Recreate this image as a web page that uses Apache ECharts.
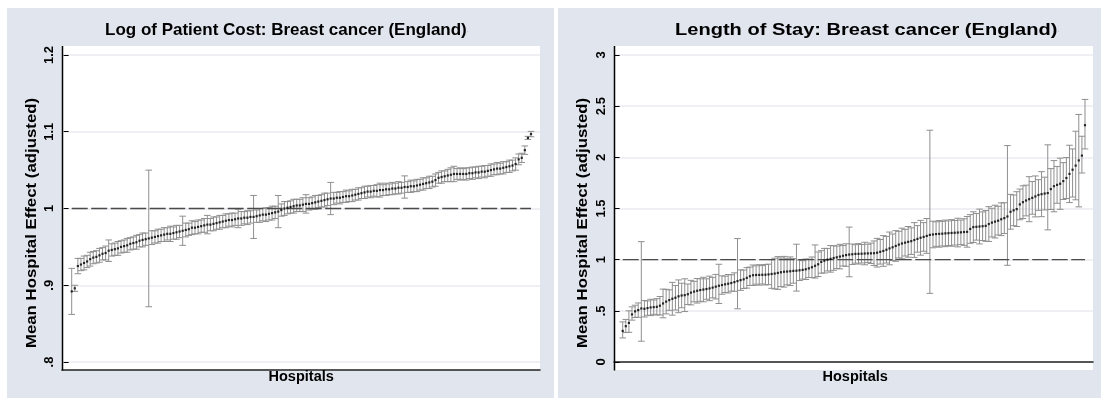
<!DOCTYPE html>
<html>
<head>
<meta charset="utf-8">
<script src="https://cdn.jsdelivr.net/npm/echarts@6/dist/echarts.min.js"></script>
<style>
  html, body { margin: 0; padding: 0; background: #ffffff; }
  #chart { width: 1101px; height: 398px; }
</style>
</head>
<body>
<div id="chart"></div>
<script>
// Hospital effects, ranked from lowest to highest.
// Log of patient cost: mean effect and half-width of its interval.
const costMean = [
  0.892,0.896,0.925,0.927,0.929,0.931,0.934,0.936,0.937,0.939,
  0.941,0.942,0.945,0.946,0.947,0.948,0.950,0.951,0.952,0.954,
  0.955,0.956,0.958,0.959,0.960,0.961,0.962,0.963,0.964,0.965,
  0.966,0.967,0.967,0.968,0.969,0.970,0.971,0.972,0.973,0.975,
  0.975,0.976,0.977,0.978,0.979,0.979,0.980,0.981,0.982,0.983,
  0.984,0.985,0.985,0.986,0.987,0.987,0.988,0.988,0.989,0.989,
  0.990,0.991,0.992,0.992,0.993,0.994,0.995,0.996,0.998,1.000,
  1.001,1.002,1.003,1.004,1.004,1.005,1.006,1.006,1.007,1.008,
  1.009,1.010,1.011,1.012,1.013,1.013,1.014,1.014,1.015,1.016,
  1.016,1.017,1.018,1.019,1.020,1.021,1.022,1.022,1.023,1.023,
  1.024,1.024,1.025,1.025,1.026,1.026,1.027,1.027,1.028,1.028,
  1.029,1.029,1.030,1.031,1.032,1.033,1.034,1.035,1.037,1.040,
  1.041,1.042,1.043,1.044,1.045,1.045,1.045,1.045,1.045,1.046,
  1.046,1.047,1.047,1.048,1.048,1.049,1.050,1.051,1.052,1.052,
  1.053,1.054,1.055,1.056,1.058,1.064,1.066,1.076,1.092,1.097
];
const costHalfCI = [
  0.030,0.004,0.010,0.008,0.009,0.008,0.009,0.008,0.008,0.009,
  0.008,0.009,0.014,0.008,0.008,0.009,0.008,0.008,0.009,0.008,
  0.008,0.009,0.008,0.009,0.008,0.089,0.009,0.008,0.009,0.008,
  0.009,0.008,0.010,0.008,0.009,0.008,0.019,0.009,0.008,0.009,
  0.008,0.009,0.008,0.009,0.012,0.008,0.009,0.008,0.009,0.008,
  0.009,0.008,0.009,0.008,0.012,0.009,0.008,0.009,0.008,0.028,
  0.008,0.009,0.008,0.009,0.008,0.009,0.008,0.021,0.008,0.009,
  0.008,0.008,0.009,0.008,0.008,0.009,0.012,0.008,0.008,0.009,
  0.008,0.008,0.009,0.008,0.021,0.008,0.007,0.008,0.007,0.008,
  0.007,0.008,0.007,0.008,0.007,0.008,0.007,0.008,0.007,0.008,
  0.009,0.007,0.008,0.007,0.008,0.007,0.008,0.007,0.0145,0.007,
  0.008,0.007,0.008,0.007,0.008,0.007,0.008,0.007,0.008,0.007,
  0.008,0.007,0.008,0.009,0.010,0.007,0.008,0.007,0.008,0.007,
  0.008,0.007,0.008,0.007,0.008,0.007,0.008,0.007,0.008,0.007,
  0.008,0.007,0.008,0.007,0.008,0.007,0.006,0.0055,0.002,0.0035
];

// Length of stay: mean effect with lower and upper interval bounds.
const losMean = [
  0.304,0.350,0.382,0.465,0.495,0.507,0.523,0.520,0.527,0.533,
  0.536,0.539,0.550,0.572,0.590,0.605,0.618,0.628,0.642,0.650,
  0.653,0.662,0.678,0.688,0.696,0.703,0.708,0.713,0.719,0.727,
  0.736,0.745,0.752,0.759,0.765,0.772,0.781,0.791,0.800,0.808,
  0.822,0.838,0.848,0.850,0.851,0.852,0.853,0.856,0.860,0.864,
  0.870,0.877,0.882,0.884,0.887,0.890,0.892,0.896,0.900,0.906,
  0.915,0.926,0.940,0.955,0.978,0.990,1.000,1.008,1.016,1.023,
  1.030,1.038,1.045,1.050,1.053,1.056,1.057,1.058,1.060,1.061,
  1.062,1.063,1.068,1.077,1.085,1.097,1.110,1.121,1.134,1.147,
  1.158,1.166,1.174,1.181,1.192,1.203,1.214,1.222,1.232,1.242,
  1.246,1.250,1.252,1.254,1.257,1.259,1.261,1.263,1.265,1.267,
  1.270,1.272,1.300,1.318,1.321,1.324,1.327,1.330,1.348,1.362,
  1.372,1.381,1.395,1.406,1.422,1.468,1.482,1.494,1.540,1.562,
  1.578,1.591,1.604,1.618,1.632,1.640,1.646,1.651,1.690,1.718,
  1.731,1.742,1.768,1.798,1.838,1.879,1.919,1.970,2.017,2.314
];
const losLow = [
  0.235,0.288,0.290,0.409,0.435,0.437,0.203,0.440,0.457,0.453,
  0.466,0.459,0.460,0.432,0.470,0.505,0.458,0.508,0.482,0.530,
  0.493,0.562,0.558,0.588,0.576,0.593,0.588,0.613,0.599,0.627,
  0.616,0.572,0.662,0.679,0.675,0.692,0.691,0.520,0.700,0.718,
  0.722,0.748,0.748,0.760,0.751,0.762,0.753,0.756,0.720,0.714,
  0.710,0.737,0.732,0.754,0.747,0.770,0.693,0.796,0.810,0.806,
  0.825,0.826,0.820,0.835,0.868,0.870,0.890,0.878,0.896,0.913,
  0.910,0.938,0.935,0.833,0.953,0.966,0.957,0.968,0.950,0.971,
  0.962,0.943,0.928,0.957,0.935,0.967,0.950,0.991,0.984,1.017,
  1.008,1.036,1.024,1.051,1.022,1.073,1.044,1.082,1.062,0.671,
  1.116,1.130,1.122,1.134,1.127,1.139,1.131,1.143,1.125,1.147,
  1.140,1.122,1.160,1.168,1.191,1.154,1.187,1.180,1.178,1.222,
  1.212,1.241,1.235,1.256,0.945,1.298,1.332,1.324,1.390,1.402,
  1.428,1.371,1.444,1.418,1.482,1.420,1.486,1.291,1.490,1.468,
  1.551,1.492,1.588,1.598,1.558,1.612,1.585,1.516,1.847,2.082
];
const losHigh = [
  0.392,0.416,0.500,0.539,0.555,0.577,1.176,0.600,0.597,0.613,
  0.606,0.619,0.640,0.712,0.710,0.705,0.778,0.748,0.802,0.770,
  0.813,0.762,0.798,0.788,0.816,0.813,0.828,0.813,0.839,0.827,
  0.856,0.955,0.842,0.839,0.855,0.852,0.871,1.206,0.900,0.898,
  0.922,0.928,0.948,0.940,0.951,0.942,0.953,0.956,1.000,1.014,
  1.030,1.017,1.032,1.014,1.027,1.010,1.151,0.996,0.990,1.006,
  1.005,1.026,1.144,1.075,1.088,1.110,1.110,1.138,1.136,1.133,
  1.150,1.138,1.155,1.318,1.153,1.146,1.157,1.148,1.170,1.151,
  1.162,1.183,1.208,1.197,1.235,1.227,1.270,1.251,1.284,1.277,
  1.308,1.296,1.324,1.311,1.362,1.333,1.384,1.362,1.402,2.265,
  1.376,1.370,1.382,1.374,1.387,1.379,1.391,1.383,1.405,1.387,
  1.400,1.422,1.440,1.468,1.451,1.494,1.467,1.480,1.518,1.502,
  1.532,1.521,1.555,1.556,2.115,1.638,1.632,1.664,1.690,1.722,
  1.728,1.811,1.764,1.818,1.782,1.860,1.806,2.122,1.890,1.968,
  1.911,1.992,1.948,1.998,2.118,2.082,2.255,2.419,2.206,2.566
];

// Axis ticks and their printed labels.
const costTicks = [0.8, 0.9, 1, 1.1, 1.2];
const costTickLabels = ['.8', '.9', '1', '1.1', '1.2'];
const losTicks = [0, 0.5, 1, 1.5, 2, 2.5, 3];
const losTickLabels = ['0', '.5', '1', '1.5', '2', '2.5', '3'];

const panelTitles = ['Log of Patient Cost: Breast cancer (England)', 'Length of Stay: Breast cancer (England)'];
const yTitle = 'Mean Hospital Effect (adjusted)';
const xTitle = 'Hospitals';
const referenceLevel = 1;

// ---- build the chart ----
const FONT = '"Liberation Sans", Arial, Helvetica, sans-serif';
const PANEL_BG = '#e0e5ee';
const GRID_LINE = '#e8ebf1';
const BAR_COLOR = '#8f8f8f';

const costRank = costMean.map((_, i) => i + 1);
const losRank = losMean.map((_, i) => i + 1);

function tickFormatter(ticks, labels) {
  return function (v) {
    const k = ticks.findIndex(t => Math.abs(t - v) < 1e-6);
    return k >= 0 ? labels[k] : '';
  };
}

function renderErrorBar(params, api) {
  const x = api.value(0);
  const lo = api.coord([x, api.value(1)]);
  const hi = api.coord([x, api.value(2)]);
  const cap = 3.3;
  const style = { stroke: BAR_COLOR, lineWidth: 1, fill: null };
  return {
    type: 'group',
    children: [
      { type: 'line', shape: { x1: lo[0], y1: lo[1], x2: hi[0], y2: hi[1] }, style: style },
      { type: 'line', shape: { x1: lo[0] - cap, y1: lo[1], x2: lo[0] + cap, y2: lo[1] }, style: style },
      { type: 'line', shape: { x1: hi[0] - cap, y1: hi[1], x2: hi[0] + cap, y2: hi[1] }, style: style }
    ]
  };
}

function xAxisFor(gridIndex, min, max) {
  return {
    type: 'value', gridIndex: gridIndex, min: min, max: max, offset: 8,
    axisLine: { show: true, lineStyle: { color: '#222', width: 1.5 } },
    axisTick: { show: false }, axisLabel: { show: false }, splitLine: { show: false }
  };
}

function yAxisFor(gridIndex, min, max, interval, ticks, labels) {
  return {
    type: 'value', gridIndex: gridIndex, min: min, max: max, interval: interval,
    axisLine: { show: false },
    axisTick: { show: true, length: 5, lineStyle: { color: '#000', width: 1 } },
    axisLabel: {
      rotate: 90, margin: 6, color: '#000', fontFamily: FONT, fontWeight: 'bold', fontSize: 13,
      formatter: tickFormatter(ticks, labels)
    },
    splitLine: { show: true, lineStyle: { color: GRID_LINE, width: 1.5 } }
  };
}

const costBars = costRank.map((r, i) => [r, costMean[i] - costHalfCI[i], costMean[i] + costHalfCI[i]]);
const losBars = losRank.map((r, i) => [r, losLow[i], losHigh[i]]);

function refLine(idx, n) {
  return {
    type: 'line', xAxisIndex: idx, yAxisIndex: idx, z: 3,
    data: [[1, referenceLevel], [n, referenceLevel]],
    symbol: 'none', silent: true,
    lineStyle: { color: '#4a4a4a', width: 1.3, type: [16, 3.5] }
  };
}

function titleText(x, y, text, scaleX) {
  return {
    type: 'text', x: x, y: y, z: 20, scaleX: scaleX || 1,
    style: {
      text: '{t|' + text + '}{d|.}',
      rich: {
        t: { fontFamily: FONT, fontSize: 17, fontWeight: 'bold', fill: '#000' },
        d: { fontFamily: FONT, fontSize: 7, fill: '#aaa' }
      },
      verticalAlign: 'middle'
    }
  };
}

function axisNameText(cx, cy, text, rotated, stretch) {
  return {
    type: 'text', x: cx, y: cy, z: 20, rotation: rotated ? Math.PI / 2 : 0,
    scaleX: stretch || 1,
    style: {
      text: '{t|' + text + '}' + (rotated ? '' : '{d|.}'),
      rich: {
        t: { fontFamily: FONT, fontSize: rotated ? 15 : 14.5, fontWeight: 'bold', fill: '#000' },
        d: { fontFamily: FONT, fontSize: 6, fill: '#aaa' }
      },
      align: 'center', verticalAlign: 'middle'
    }
  };
}

const chart = echarts.init(document.getElementById('chart'), null, { renderer: 'canvas' });

chart.setOption({
  animation: false,
  backgroundColor: '#ffffff',
  grid: [
    { left: 62, top: 55, width: 478, height: 307 },
    { left: 614, top: 55, width: 479, height: 307 }
  ],
  xAxis: [
    xAxisFor(0, -2.147, 152.92),
    xAxisFor(1, -1.804, 152.58)
  ],
  yAxis: [
    yAxisFor(0, 0.8, 1.2, 0.1, costTicks, costTickLabels),
    yAxisFor(1, 0, 3, 0.5, losTicks, losTickLabels)
  ],
  graphic: [
    { type: 'rect', z: -10, shape: { x: 7, y: 8, width: 547, height: 390 }, style: { fill: PANEL_BG } },
    { type: 'rect', z: -10, shape: { x: 558, y: 8, width: 543, height: 390 }, style: { fill: PANEL_BG } },
    { type: 'rect', z: -9, shape: { x: 62, y: 46, width: 478, height: 324 }, style: { fill: '#ffffff' } },
    { type: 'rect', z: -9, shape: { x: 614, y: 46, width: 479, height: 324 }, style: { fill: '#ffffff' } },
    { type: 'line', z: 10, shape: { x1: 62.5, y1: 46, x2: 62.5, y2: 370.5 }, style: { stroke: '#000', lineWidth: 1.5 } },
    { type: 'line', z: 10, shape: { x1: 614.5, y1: 46, x2: 614.5, y2: 370.5 }, style: { stroke: '#000', lineWidth: 1.5 } },
    titleText(105, 30, panelTitles[0]),
    titleText(675, 30, panelTitles[1], 1.18),
    axisNameText(32, 223, yTitle, true, 1.12),
    axisNameText(583, 223, yTitle, true, 1.12),
    axisNameText(302, 377, xTitle, false),
    axisNameText(856, 377, xTitle, false)
  ],
  series: [
    {
      type: 'custom', xAxisIndex: 0, yAxisIndex: 0, z: 2,
      renderItem: renderErrorBar, data: costBars, encode: { x: 0, y: [1, 2] }, silent: true
    },
    refLine(0, costMean.length),
    {
      type: 'scatter', xAxisIndex: 0, yAxisIndex: 0, z: 4,
      data: costRank.map((r, i) => [r, costMean[i]]),
      symbol: 'rect', symbolSize: 2.2, itemStyle: { color: '#000' }, silent: true
    },
    {
      type: 'custom', xAxisIndex: 1, yAxisIndex: 1, z: 2,
      renderItem: renderErrorBar, data: losBars, encode: { x: 0, y: [1, 2] }, silent: true
    },
    refLine(1, losMean.length),
    {
      type: 'scatter', xAxisIndex: 1, yAxisIndex: 1, z: 4,
      data: losRank.map((r, i) => [r, losMean[i]]),
      symbol: 'rect', symbolSize: 2.2, itemStyle: { color: '#000' }, silent: true
    }
  ]
});
</script>
</body>
</html>
